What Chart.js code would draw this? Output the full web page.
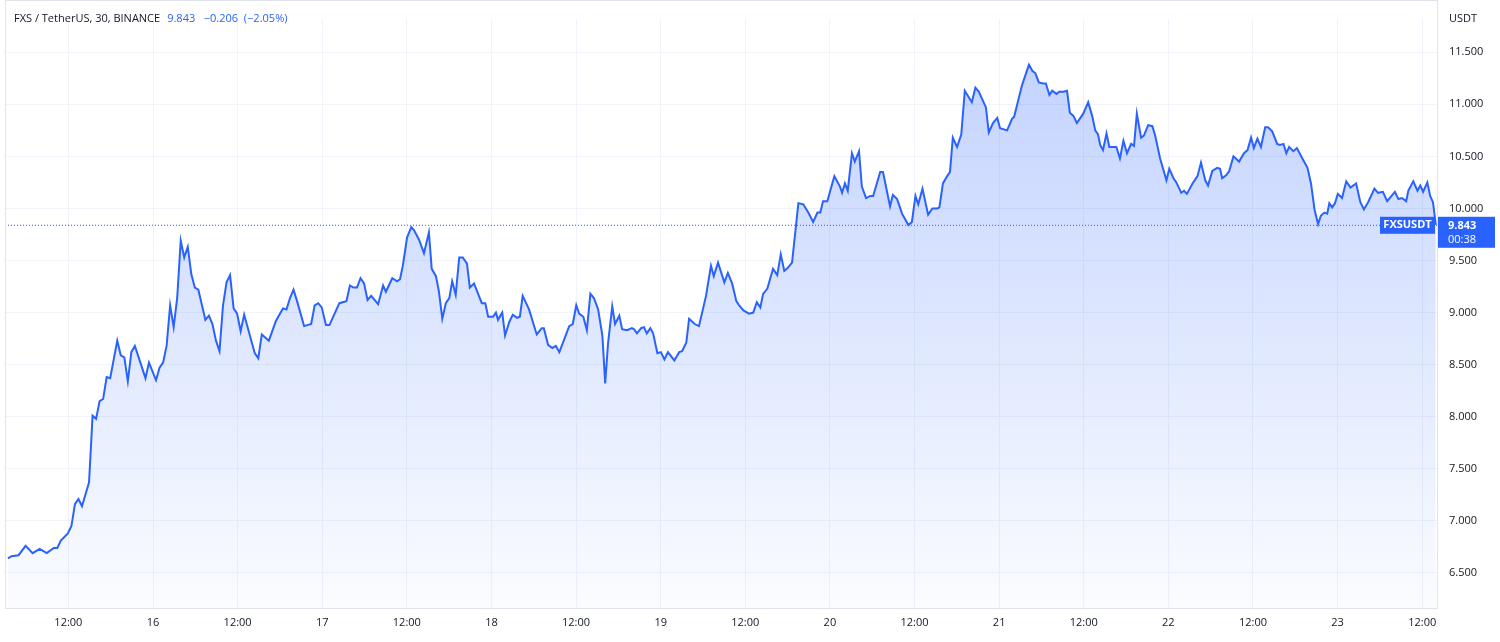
<!DOCTYPE html>
<html>
<head>
<meta charset="utf-8">
<script src="https://cdn.jsdelivr.net/npm/chart.js@4"></script>
<style>
  html, body { margin: 0; padding: 0; background: #fff; }
  canvas { display: block; }
</style>
</head>
<body>
<canvas id="myChart" width="1500" height="642"></canvas>
<script>
// hours from first traced candle reference (30-min candles, traced vertices)
const horas = [1.5,2,3,4,5,6,7,8,8.5,9,10,10.5,11,11.5,12,13,13.5,14,14.5,15,15.5,16,17,17.5,18,18.5,19,19.5,21,21.5,22.5,23,23.5,24,24.5,25,25.5,26,26.5,27,27.5,28,28.5,29.5,30,30.5,31,31.5,32,32.5,33,33.5,34,34.5,35,36.5,37,37.5,38.5,39.5,40.5,41,41.5,42,42.5,43.5,44.5,45,45.5,46,46.6,47.1,48.5,49.5,50,50.5,51,51.5,52,52.5,53,54,
54.7,55.1,56.0,56.7,57.1,57.5,58.1,58.7,59.1,59.8,60.5,61.2,61.6,62.2,62.6,63.1,63.6,64.1,64.5,65.0,65.5,66.0,66.6,67.0,67.6,68.7,69.2,69.6,70.3,70.7,71.0,71.6,72.0,72.6,73.1,73.7,74.1,74.5,75.4,76.3,76.5,77.2,77.5,78.1,78.7,79.2,79.7,81.1,81.6,82.1,82.5,83.1,83.6,84.1,84.6,85.2,85.8,86.2,86.6,87.2,87.6,88.2,88.6,89.3,90.0,90.3,90.7,91.3,91.7,92.1,92.6,93.0,93.6,94.1,94.6,95.1,96.0,96.7,97.1,97.7,98.1,98.9,99.5,100.5,101.2,101.6,102.2,103.1,103.6,104.2,104.8,105.2,105.8,106.6,107.2,107.7,108.2,108.6,
109.2,110.0,110.6,111.1,111.6,112.1,112.7,113.6,114.3,115.0,115.7,116.3,116.7,117.1,117.7,118.7,119.5,119.8,120.2,120.6,121.2,121.6,122.2,122.6,123.2,123.8,124.2,125.2,125.6,126.6,127.0,127.6,128.3,129.2,129.7,130.2,130.6,131.2,132.0,132.6,133.3,133.6,134.1,134.7,135.1,135.5,136.1,136.7,137.2,138.2,138.7,139.2,140.2,140.6,141.2,141.8,142.2,143.2,143.9,144.2,145.3,146.3,146.8,147.2,147.7,148.3,148.7,149.2,149.6,150.2,150.6,151.2,151.7,152.1,152.6,153.1,154.0,154.7,155.3,155.7,156.1,
156.4,156.8,157.3,157.7,158.7,159.2,159.7,160.2,160.8,161.2,161.6,162.2,162.6,163.2,163.8,164.2,164.9,165.8,166.2,166.8,167.2,167.9,168.3,168.7,169.5,170.2,170.7,171.3,171.7,172.3,173.0,173.4,173.7,174.3,174.7,175.3,176.1,176.8,177.3,177.8,178.2,178.7,179.2,179.8,180.2,180.8,181.5,181.9,182.4,182.8,183.2,183.8,184.3,185.0,185.8,186.3,186.8,187.3,187.7,188.2,188.6,188.9,189.3,189.7,190.1,190.7,191.3,191.9,192.7,193.3,193.8,194.4,195.3,195.8,196.5,197.1,198.2,198.7,199.2,199.8,200.1,200.8,201.4,201.8,202.2,202.8,203.2,203.6,204.0];

const precios = [6.64,6.66,6.67,6.76,6.69,6.73,6.69,6.74,6.74,6.81,6.88,6.95,7.16,7.21,7.14,7.37,8.01,7.98,8.15,8.17,8.38,8.37,8.73,8.59,8.57,8.34,8.62,8.68,8.37,8.52,8.35,8.47,8.52,8.68,9.07,8.86,9.14,9.69,9.53,9.63,9.37,9.24,9.22,8.93,8.97,8.89,8.73,8.63,9.07,9.29,9.36,9.04,8.99,8.82,8.98,8.61,8.56,8.79,8.73,8.92,9.04,9.03,9.14,9.22,9.11,8.87,8.89,9.07,9.09,9.05,8.88,8.88,9.09,9.11,9.26,9.24,9.24,9.33,9.28,9.12,9.16,9.08,
9.26,9.20,9.33,9.30,9.32,9.45,9.72,9.82,9.79,9.70,9.57,9.77,9.42,9.35,9.21,8.94,9.09,9.14,9.30,9.17,9.53,9.53,9.47,9.24,9.28,9.09,9.09,8.96,8.96,9.00,8.93,9.00,8.78,8.91,8.98,8.95,8.96,9.16,9.03,8.83,8.79,8.85,8.85,8.69,8.66,8.68,8.62,8.87,8.89,9.07,8.99,8.96,8.83,9.18,9.14,9.03,8.78,8.32,8.70,9.06,8.89,8.97,8.84,8.83,8.85,8.84,8.80,8.85,8.86,8.80,8.85,8.80,8.61,8.62,8.55,8.62,8.54,8.62,8.63,8.71,8.94,8.89,8.87,9.16,9.45,9.35,9.48,9.29,9.38,9.28,9.11,9.07,9.02,8.99,9.00,9.10,9.05,9.18,
9.23,9.42,9.36,9.56,9.40,9.43,9.48,10.05,10.04,9.96,9.87,9.96,9.96,10.07,10.07,10.31,10.21,10.15,10.24,10.17,10.53,10.45,10.55,10.21,10.10,10.12,10.12,10.35,10.35,10.02,10.13,10.09,9.95,9.84,9.87,10.12,10.04,10.19,9.94,10.00,10.00,10.01,10.24,10.31,10.35,10.68,10.59,10.71,11.13,11.02,11.16,11.12,10.97,10.73,10.82,10.87,10.77,10.75,10.86,10.88,11.18,11.38,11.32,11.30,11.21,11.20,11.20,11.09,11.13,11.10,11.12,11.12,11.13,10.92,10.89,10.82,10.91,11.02,10.88,10.75,10.71,
10.61,10.56,10.72,10.59,10.59,10.48,10.65,10.53,10.62,10.60,10.91,10.68,10.70,10.80,10.79,10.70,10.48,10.27,10.38,10.29,10.25,10.15,10.17,10.14,10.24,10.31,10.44,10.27,10.22,10.36,10.39,10.38,10.29,10.32,10.36,10.50,10.45,10.53,10.56,10.68,10.58,10.67,10.59,10.78,10.78,10.74,10.62,10.61,10.62,10.53,10.59,10.55,10.58,10.49,10.39,10.24,9.99,9.85,9.93,9.96,9.95,10.05,10.01,10.05,10.14,10.10,10.26,10.20,10.24,10.06,9.99,10.06,10.19,10.15,10.16,10.07,10.16,10.09,10.10,10.07,10.17,10.26,10.17,10.22,10.16,10.25,10.12,10.06,9.843];

// offset so that hour 0 = 15th 00:00
const desfase = 1.93;
const ticksY = [6.5,7,7.5,8,8.5,9,9.5,10,10.5,11,11.5];
const ticksX = [12,24,36,48,60,72,84,96,108,120,132,144,156,168,180,192,204];
const ultimo = 9.843;
const azul = '#2962FF';

const puntos = horas.map((h, i) => ({ x: h + desfase, y: precios[i] }));

const extras = {
  id: 'extras',
  afterDatasetsDraw(chart) {
    const { ctx, chartArea, scales } = chart;
    const yy = scales.y.getPixelForValue(ultimo);
    ctx.save();
    ctx.strokeStyle = azul;
    ctx.lineWidth = 1;
    ctx.setLineDash([1, 2]);
    ctx.beginPath();
    ctx.moveTo(chartArea.left, yy + 0.5);
    ctx.lineTo(chartArea.right, yy + 0.5);
    ctx.stroke();
    ctx.setLineDash([]);
    ctx.fillStyle = azul;
    ctx.fillRect(chartArea.right - 57, yy - 8, 55, 17);
    ctx.font = 'bold 11px "Open Sans", sans-serif';
    ctx.fillStyle = '#fff';
    ctx.textAlign = 'center';
    ctx.textBaseline = 'middle';
    ctx.fillText('FXSUSDT', chartArea.right - 29.5, yy + 0.5);
    ctx.fillStyle = azul;
    ctx.fillRect(chartArea.right, yy - 8, 58, 31);
    ctx.fillStyle = '#fff';
    ctx.textAlign = 'left';
    ctx.fillText('9.843', chartArea.right + 11, yy + 1);
    ctx.font = '11px "Open Sans", sans-serif';
    ctx.fillText('00:38', chartArea.right + 11, yy + 15);
    ctx.font = '11px "Open Sans", sans-serif';
    ctx.fillStyle = '#131722';
    const t1 = 'FXS / TetherUS, 30, BINANCE';
    ctx.fillText(t1, 14, 19);
    const w1 = ctx.measureText(t1).width;
    ctx.fillStyle = azul;
    ctx.fillText('9.843   −0.206  (−2.05%)', 14 + w1 + 7, 19);
    ctx.fillStyle = '#131722';
    ctx.fillText('USDT', chartArea.right + 12, 19);
    ctx.strokeStyle = '#e0e3eb';
    ctx.lineWidth = 1;
    ctx.strokeRect(chartArea.left + 0.5, 0.5, chartArea.right - chartArea.left, chartArea.bottom);
    ctx.restore();
  }
};

const ctx = document.getElementById('myChart').getContext('2d');
const grad = ctx.createLinearGradient(0, 60, 0, 608);
grad.addColorStop(0, 'rgba(41,98,255,0.28)');
grad.addColorStop(1, 'rgba(41,98,255,0.02)');

new Chart(ctx, {
  type: 'line',
  data: {
    datasets: [{
      data: puntos,
      borderColor: azul,
      borderWidth: 2,
      backgroundColor: grad,
      fill: 'start',
      pointRadius: 0,
      tension: 0
    }]
  },
  options: {
    responsive: false,
    animation: false,
    layout: { padding: { top: 3, left: 5, right: 0, bottom: 0 } },
    plugins: { legend: { display: false }, tooltip: { enabled: false } },
    scales: {
      x: {
        type: 'linear',
        min: 3.01,
        max: 206.1,
        afterBuildTicks(axis) { axis.ticks = ticksX.map(v => ({ value: v })); },
        afterFit(axis) { axis.height = 34; },
        grid: { color: '#f0f3fa', drawTicks: false },
        border: { display: false },
        ticks: {
          padding: 8,
          maxRotation: 0,
          autoSkip: false,
          color: '#131722',
          font: { family: 'Open Sans', size: 11 },
          callback(v) { return (v % 24 === 0) ? String(15 + v / 24) : '12:00'; }
        }
      },
      y: {
        position: 'right',
        min: 6.163,
        max: 11.823,
        afterBuildTicks(axis) { axis.ticks = ticksY.map(v => ({ value: v })); },
        afterFit(axis) { axis.width = 63; },
        grid: { color: '#f0f3fa', drawTicks: false },
        border: { display: false },
        ticks: {
          padding: 12,
          color: '#131722',
          font: { family: 'Open Sans', size: 11 },
          callback(v) { return v.toFixed(3); }
        }
      }
    }
  },
  plugins: [extras]
});
</script>
</body>
</html>
